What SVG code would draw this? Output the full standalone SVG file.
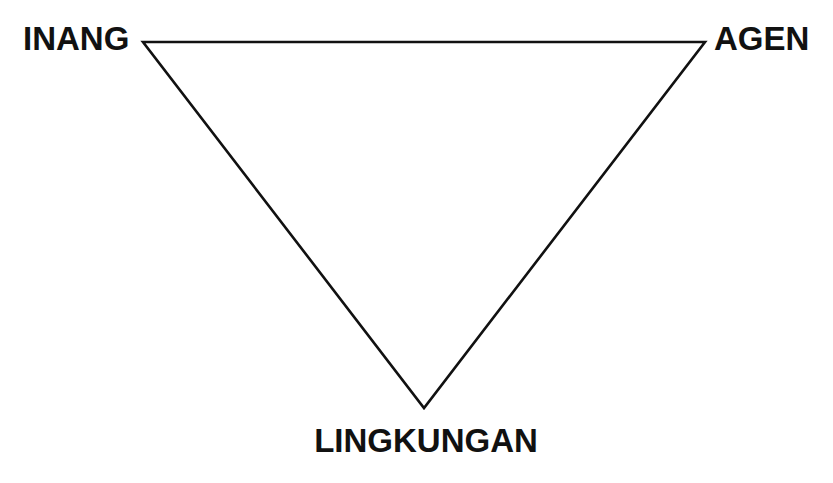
<svg xmlns="http://www.w3.org/2000/svg" width="833" height="483" viewBox="0 0 833 483">
<style>
.lbl{font-family:"Liberation Sans",Arial,sans-serif;font-weight:bold;font-size:33px;fill:#111}
.edge{fill:none;stroke:#111;stroke-width:2.6;stroke-linejoin:miter}
</style>
<rect width="833" height="483" fill="#fff"/>
<g id="connectors">
<polygon class="edge" points="143,42 705,42 424,408"/>
</g>
<g id="inang"><text class="lbl" x="23" y="50">INANG</text></g>
<g id="agen"><text class="lbl" x="714" y="50">AGEN</text></g>
<g id="lingkungan"><text class="lbl" x="426" y="452" text-anchor="middle">LINGKUNGAN</text></g>
</svg>
